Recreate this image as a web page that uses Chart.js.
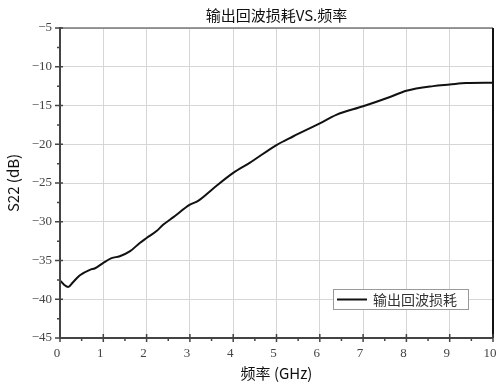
<!DOCTYPE html>
<html>
<head>
<meta charset="utf-8">
<script src="https://cdn.jsdelivr.net/npm/chart.js@4/dist/chart.umd.min.js"></script>
<style>
    html, body { margin: 0; padding: 0; background: #fff; }
    #wrap { width: 497px; height: 387px; position: relative; }
</style>
</head>
<body>
<div id="wrap"><canvas id="s22Canvas"></canvas></div>
<script>
const freqGHz = [0, 0.1, 0.19, 0.3, 0.46, 0.69, 0.81, 1.0, 1.19, 1.38, 1.62, 1.85, 2.0, 2.23, 2.38, 2.62,
    3.0, 3.19, 3.54, 4.0, 4.38, 5.0, 5.38, 6.0, 6.38, 7.0, 7.62, 8.0, 8.62, 9.0, 9.38, 10];
const s22dB = [-37.56, -38.15, -38.42, -37.8, -36.9, -36.2, -36.0, -35.3, -34.7, -34.45, -33.8, -32.7, -32.1, -31.2, -30.4, -29.4,
    -27.8, -27.3, -25.7, -23.7, -22.4, -20.1, -19.0, -17.3, -16.2, -15.1, -13.9, -13.1, -12.5, -12.3, -12.1, -12.05];
const xTicks = [0, 1, 2, 3, 4, 5, 6, 7, 8, 9, 10];
const yTicks = [-45, -40, -35, -30, -25, -20, -15, -10, -5];

const chartTitle = '输出回波损耗VS.频率';
const xTitle = '频率 (GHz)';
const yTitle = 'S22 (dB)';
const seriesName = '输出回波损耗';

const sansFont = '"Noto Sans CJK SC", "Noto Sans", sans-serif';
const serifFont = '"Liberation Serif", "DejaVu Serif", serif';

// frame, ticks, titles and legend box
const framePlugin = {
    id: 'frame',
    afterDatasetsDraw(chart) {
        const { ctx, chartArea: a, scales: { x, y } } = chart;
        ctx.save();

        // top and right border
        ctx.strokeStyle = '#777';
        ctx.lineWidth = 1.5;
        ctx.beginPath();
        ctx.moveTo(a.left, a.top);
        ctx.lineTo(a.right, a.top);
        ctx.stroke();
        ctx.strokeStyle = '#111';
        ctx.lineWidth = 2;
        ctx.beginPath();
        ctx.moveTo(a.right, a.top);
        ctx.lineTo(a.right, a.bottom);
        ctx.stroke();

        // left and bottom axes
        ctx.strokeStyle = '#444';
        ctx.lineWidth = 2;
        ctx.beginPath();
        ctx.moveTo(a.left, a.top - 1);
        ctx.lineTo(a.left, a.bottom);
        ctx.lineTo(a.right, a.bottom);
        ctx.stroke();

        ctx.lineWidth = 1.5;
        ctx.beginPath();
        xTicks.forEach((v, i) => {
            const px = x.getPixelForValue(v);
            ctx.moveTo(px, a.bottom - 4);
            ctx.lineTo(px, a.bottom + 4);
            if (i < xTicks.length - 1) {
                const mx = x.getPixelForValue(v + 0.5);
                ctx.moveTo(mx, a.bottom);
                ctx.lineTo(mx, a.bottom + 3);
            }
        });
        yTicks.forEach((v, i) => {
            const py = y.getPixelForValue(v);
            ctx.moveTo(a.left - 5, py);
            ctx.lineTo(a.left + 3, py);
            if (i < yTicks.length - 1) {
                const my = y.getPixelForValue(v + 2.5);
                ctx.moveTo(a.left - 3, my);
                ctx.lineTo(a.left, my);
            }
        });
        ctx.stroke();

        // titles
        ctx.fillStyle = '#111';
        ctx.font = '15px ' + sansFont;
        ctx.textAlign = 'center';
        ctx.textBaseline = 'middle';
        const cx = (a.left + a.right) / 2;
        ctx.fillText(chartTitle, cx, 15);
        ctx.fillText(xTitle, cx, 373);
        ctx.save();
        ctx.translate(13, (a.top + a.bottom) / 2);
        ctx.rotate(-Math.PI / 2);
        ctx.fillText(yTitle, 0, 0);
        ctx.restore();

        // legend box
        const bx = 333, by = 289, bw = 135, bh = 20;
        ctx.fillStyle = '#fff';
        ctx.fillRect(bx, by, bw, bh);
        ctx.strokeStyle = '#999';
        ctx.lineWidth = 1;
        ctx.strokeRect(bx + 0.5, by + 0.5, bw, bh);
        ctx.strokeStyle = '#111';
        ctx.lineWidth = 2;
        ctx.beginPath();
        ctx.moveTo(bx + 4, by + bh / 2 + 0.5);
        ctx.lineTo(bx + 34, by + bh / 2 + 0.5);
        ctx.stroke();
        ctx.fillStyle = '#333';
        ctx.font = '14px ' + sansFont;
        ctx.textAlign = 'left';
        ctx.fillText(seriesName, bx + 40, by + bh / 2 + 1);

        ctx.restore();
    },
};

const ctx = document.getElementById('s22Canvas').getContext('2d');

new Chart(ctx, {
    type: 'line',
    data: {
        datasets: [
            {
                label: seriesName,
                data: freqGHz.map((f, i) => ({ x: f, y: s22dB[i] })),
                borderColor: '#111',
                borderWidth: 2,
                pointRadius: 0,
                fill: false,
                cubicInterpolationMode: 'monotone',
            },
        ],
    },
    options: {
        responsive: true,
        maintainAspectRatio: false,
        animation: false,
        layout: {
            padding: { top: 28, right: 4, left: 0, bottom: 0 },
        },
        plugins: {
            legend: { display: false },
            title: { display: false },
            tooltip: { enabled: false },
        },
        scales: {
            x: {
                type: 'linear',
                min: 0,
                max: 10,
                afterBuildTicks: (s) => { s.ticks = xTicks.map(v => ({ value: v })); },
                afterFit: (s) => { s.height = 49; s.paddingLeft = 0; s.paddingRight = 0; },
                border: { display: false },
                grid: {
                    color: '#d6d6d6',
                    lineWidth: 1,
                    drawTicks: false,
                },
                ticks: {
                    color: '#444',
                    font: { family: serifFont, size: 13 },
                    padding: 8,
                    labelOffset: -3,
                    maxRotation: 0,
                },
            },
            y: {
                min: -45,
                max: -5,
                afterBuildTicks: (s) => { s.ticks = yTicks.map(v => ({ value: v })); },
                afterFit: (s) => { s.width = 60; s.paddingTop = 0; s.paddingBottom = 0; },
                border: { display: false },
                grid: {
                    color: '#d6d6d6',
                    lineWidth: 1,
                    drawTicks: false,
                },
                ticks: {
                    color: '#444',
                    font: { family: serifFont, size: 13 },
                    padding: 8,
                    callback: (v) => String(v).replace('-', '\u2212'),
                },
            },
        },
    },
    plugins: [framePlugin],
});
</script>
</body>
</html>
